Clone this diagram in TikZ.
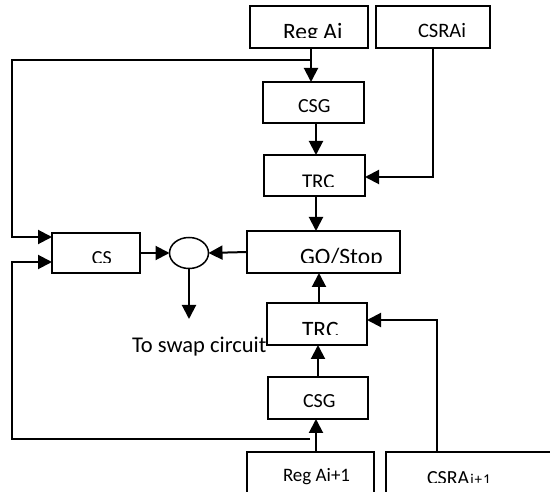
\documentclass[tikz,border=0pt]{standalone}
\usepackage{fontspec}
\setmainfont{Carlito}
\usetikzlibrary{arrows.meta,shapes.geometric}

\tikzset{
  box/.style={draw, line width=1.5pt, inner sep=0pt, outer sep=0pt},
  conn/.style={line width=2pt},
  arr/.style={conn, -{Triangle[width=14pt,length=14pt]}},
  lbl/.style={inner sep=0pt, outer sep=0pt, anchor=base west, font=\fontsize{20}{24}\selectfont},
}

% label clipped at a given bottom edge, as in a text frame
\newcommand\cliplabel[6]{% name, x, baseline, clip bottom, size, text
  \begin{scope}
    \clip (#2-5,#4-40) rectangle (#2+200,#4);
    \node[lbl, font=\fontsize{#5}{#5}\selectfont] (#1) at (#2,#3) {#6};
  \end{scope}}

\begin{document}
\begin{tikzpicture}[x=1pt, y=-1pt]
  \clip (0,0) rectangle (550,492);

  % boxes
  \node[box, minimum width=118pt, minimum height=42pt] (rega)  at (309,27) {};
  \node[box, minimum width=114pt, minimum height=42pt] (csrai) at (433,27) {};
  \node[box, minimum width=101pt, minimum height=41pt] (csga)  at (313.5,102.5) {};
  \node[box, minimum width=101pt, minimum height=41pt] (trca)  at (314.5,175.5) {};
  \node[box, minimum width=153pt, minimum height=42pt] (go)    at (323.5,252) {};
  \node[box, minimum width=88pt,  minimum height=40pt] (cs)    at (96,253) {};
  \node[box, minimum width=100pt, minimum height=42pt] (trcb)  at (317,324) {};
  \node[box, minimum width=100pt, minimum height=42pt] (csgb)  at (318,398) {};
  \node[box, minimum width=127pt, minimum height=48pt] (regb)  at (310.5,476) {};
  \node[box, minimum width=174pt, minimum height=48pt] (csrab) at (473,476) {};
  \node[box, ellipse, minimum width=39pt, minimum height=31pt] (sw) at (189,253) {};

  % labels
  \cliplabel{tRega}{283}{40}{38}{23.5}{Reg Ai}
  \node[lbl, font=\fontsize{20.5}{24}\selectfont] (tCsrai) at (418,38) {CSRAi};
  \node[lbl] (tCsga) at (298,113) {CSG};
  \cliplabel{tTrca}{302}{188.5}{187}{21}{TRC}
  \cliplabel{tCs}{92}{265}{263}{20}{CS}
  \cliplabel{tGo}{300}{265}{263}{23.5}{GO/Stop}
  \cliplabel{tTrcb}{302}{337.5}{335}{23.5}{TRC}
  \node[lbl] (tCsgb) at (303,407.5) {CSG};
  \node[lbl, font=\fontsize{19}{22}\selectfont] (tRegb) at (283,481.5) {Reg Ai+1};
  \cliplabel{tCsrab}{427}{484.5}{482.5}{20}{CSRA\fontsize{15}{15}\selectfont\kern1pt i\kern1pt+\kern1pt1}
  \node[lbl, font=\fontsize{22.5}{26}\selectfont] (tSwap) at (132,353) {To swap circuit};

  % junction and corner points of the feedback loops
  \coordinate (fbtop) at (311,60);
  \coordinate (fbbot) at (310,439);
  \coordinate (csrain) at (433,177);
  \coordinate (csrabin) at (437,320);
  \coordinate (swapend) at (189,319);

  % main chain, upper half
  \draw[arr] (rega.south -| fbtop) -- (csga.north -| fbtop);
  \draw[arr] (316,123) coordinate (a1) -- (a1 |- trca.north);
  \draw[arr] (csrai.south) -- (csrain) -- (csrain -| trca.east);
  \draw[arr] (trca.south -| a1) -- (go.north -| a1);

  % comparison and output
  \draw[arr] (cs.east) -- (sw.west);
  \draw[arr] (go.west) -- (sw.east);
  \draw[arr] (sw.south) -- (swapend);

  % main chain, lower half
  \draw[arr] (319,303) coordinate (a2) -- (a2 |- go.south);
  \draw[arr] (csgb.north -| 318,0) coordinate (a3) -- (a3 |- trcb.south);
  \draw[arr] (regb.north -| a1) -- (a1 |- csgb.south);
  \draw[arr] (csrab.north -| csrabin) -- (csrabin) -- (csrabin -| trcb.east);

  % feedback loops into CS
  \draw[arr] (fbtop) -- (12,60) |- ([yshift=16pt]cs.west);
  \draw[arr] (fbbot) -- (12,439) |- ([yshift=-9pt]cs.west);
\end{tikzpicture}
\end{document}
